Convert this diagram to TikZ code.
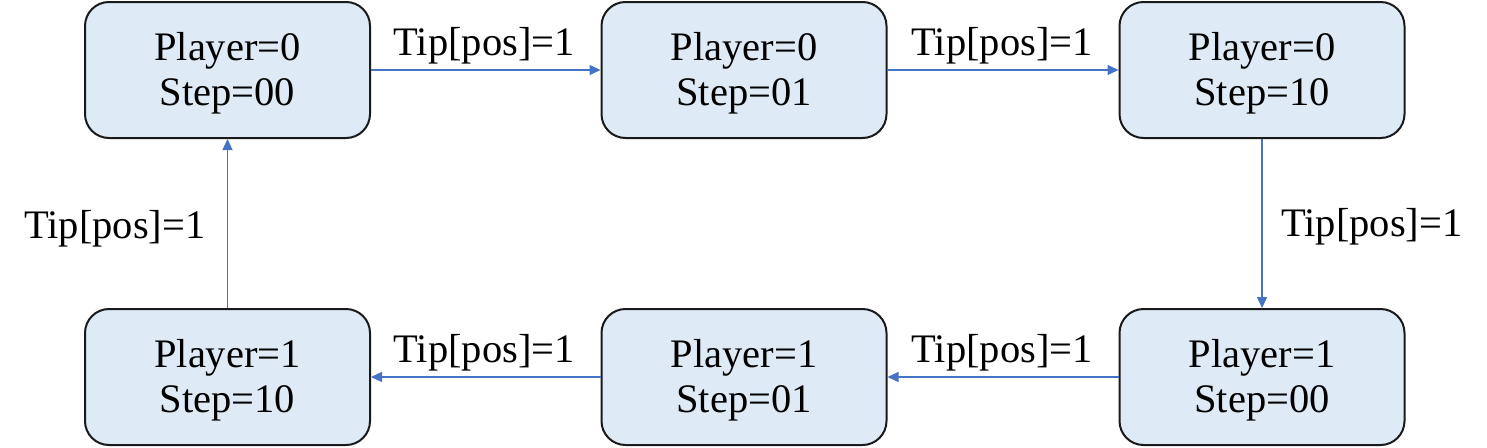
\documentclass[tikz,border=0pt]{standalone}
\usepackage{fontspec}
\setmainfont{Liberation Serif}
\usetikzlibrary{arrows.meta}
\definecolor{boxfill}{HTML}{DEEBF7}
\definecolor{boxline}{HTML}{1A1A1A}
\definecolor{arrowblue}{HTML}{4472C4}
\newcommand{\toppad}{\rule{0pt}{34pt}}
\tikzset{
  state/.style={draw=boxline, line width=2pt, fill=boxfill, rounded corners=24pt,
    minimum width=285pt, minimum height=136pt, align=center, inner sep=0pt,
    font=\fontsize{40.5pt}{45pt}\selectfont},
  flow/.style={draw=arrowblue, line width=1.3pt, -{Triangle[length=11pt,width=10pt]}},
  lbl/.style={font=\fontsize{40.5pt}{45pt}\selectfont, inner sep=0pt}
}
\begin{document}
\begin{tikzpicture}[x=1pt,y=-1pt]
\useasboundingbox (0,0) rectangle (1487,447);
\node[state] (a) at (227.5,70) {\toppad Player=0\\Step=00};
\node[state] (b) at (744,70) {\toppad Player=0\\Step=01};
\node[state] (c) at (1262,70) {\toppad Player=0\\Step=10};
\node[state] (d) at (1262,377) {\toppad Player=1\\Step=00};
\node[state] (e) at (744,377) {\toppad Player=1\\Step=01};
\node[state] (f) at (227.5,377) {\toppad Player=1\\Step=10};
\draw[flow] (a) -- (b);
\draw[flow] (b) -- (c);
\draw[flow] (c) -- (d);
\draw[flow] (d) -- (e);
\draw[flow] (e) -- (f);
\draw[flow] (f) -- (a);
\node[lbl, anchor=base] (l1) at (484,55) {Tip[pos]=1};
\node[lbl, anchor=base] (l2) at (1002,55) {Tip[pos]=1};
\node[lbl, anchor=base west] (l3) at (1281,236) {Tip[pos]=1};
\node[lbl, anchor=base] (l4) at (1002,362) {Tip[pos]=1};
\node[lbl, anchor=base] (l5) at (484,362) {Tip[pos]=1};
\node[lbl, anchor=base west] (l6) at (24,238) {Tip[pos]=1};
\end{tikzpicture}
\end{document}
